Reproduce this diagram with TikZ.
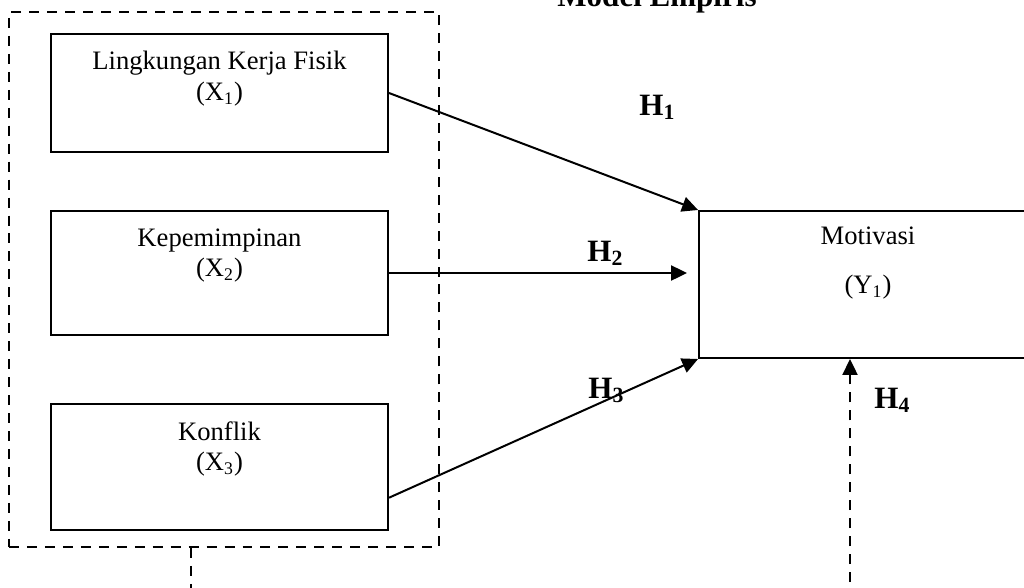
\documentclass[tikz,border=0pt]{standalone}
\usepackage{fontspec}
\setmainfont{Liberation Serif}
\usepackage{tikz}
\usetikzlibrary{positioning,arrows.meta,calc}
\tikzset{
  var/.style={draw, line width=0.9pt, rectangle, inner sep=0pt, minimum width=152pt},
  vtxt/.style={inner sep=0pt, align=center, font=\fontsize{12}{13.8}\selectfont},
  hyp/.style={inner sep=0pt, anchor=base west, font=\fontsize{14}{16}\selectfont\bfseries},
  ar/.style={-{Triangle[length=7.2pt,width=6.8pt]}, line width=0.9pt},
  dsh/.style={dash pattern=on 4.5pt off 3.6pt, line width=0.9pt},
}

\begin{document}
\begin{tikzpicture}[x=0.451pt, y=-0.451pt]
\useasboundingbox (0,0) rectangle (1024,587);

% title (cut at the top)
\node[inner sep=0pt, anchor=base, font=\fontsize{14}{16}\selectfont\bfseries] (ttl) at (657,7) {Model Empiris};

% independent variables
\node[var, minimum height=53.2pt] (x1) at (219.5,93) {};
\node[var, minimum height=55.9pt] (x2) at (219.5,273) {};
\node[var, minimum height=56.8pt] (x3) at (219.5,467) {};
\node[vtxt, anchor=north, below=8.1pt of x1.north] (x1t) {Lingkungan Kerja Fisik\\(X\textsubscript{1})};
\node[vtxt, anchor=north, below=8.1pt of x2.north] (x2t) {Kepemimpinan\\(X\textsubscript{2})};
\node[vtxt, anchor=north, below=8.1pt of x3.north] (x3t) {Konflik\\(X\textsubscript{3})};
\node[draw, dsh, inner sep=0pt, minimum width=193.9pt, minimum height=241.3pt] (grp) at (224,279.5) {};

% dependent variable
\node[var, minimum width=152.4pt, minimum height=66.3pt] (y1) at (868,284.5) {};
\node[vtxt, font=\fontsize{12}{22.5}\selectfont, anchor=north, below=7.2pt of y1.north] (y1t) {Motivasi\\(Y\textsubscript{1})};

% paths
\coordinate (h2tip) at (687,275);
\coordinate (foot1) at (191,600);
\coordinate (foot2) at (850,600);
\draw[ar] (x1.east) -- (y1.north west);
\draw[ar] (x2.east) -- (x2.east -| h2tip);
\draw[ar] ($(x3.south east)!0.26!(x3.north east)$) -- (y1.south west);
\draw[ar, dsh] (foot2) -- (y1.south -| foot2);
\draw[dsh] (grp.south -| foot1) -- (foot1);

\node[hyp] (h1) at (639,115) {H\textsubscript{1}};
\node[hyp] (h2) at (587,261) {H\textsubscript{2}};
\node[hyp] (h3) at (588,398) {H\textsubscript{3}};
\node[hyp] (h4) at (874,408) {H\textsubscript{4}};
\end{tikzpicture}
\end{document}
